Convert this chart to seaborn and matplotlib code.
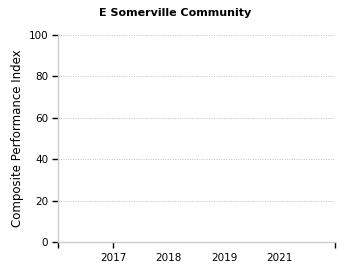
import numpy as np
import pandas as pd
import matplotlib
matplotlib.use("Agg")
import matplotlib.pyplot as plt
import seaborn as sns

title = "E Somerville Community"
ylabel = "Composite Performance Index"
years = ["2017", "2018", "2019", "2021"]
values = [np.nan, np.nan, np.nan, np.nan]
yticks = [0, 20, 40, 60, 80, 100]

sns.set_theme(style="ticks")
plt.rcParams['font.family'] = ['DejaVu Sans']

fig = plt.figure(figsize=(3.5, 2.75), dpi=100)
ax = fig.add_axes([58/350, 1 - 242/275, (335-58)/350, (242-35)/275])

df = pd.DataFrame({"pos": np.arange(1, len(years) + 1), "val": values})
sns.scatterplot(data=df, x="pos", y="val", ax=ax)

n = len(years)
ax.set_xlim(0, n + 1)
ax.set_ylim(0, 100)
# Category labels, no tick marks
ax.set_xticks(np.arange(1, n + 1))
ax.set_xticklabels(years, fontsize=7.5, color="black")
ax.tick_params(axis="x", which="major", length=0, pad=8)
# Tick marks at axis ends and first category
sec = ax.secondary_xaxis("bottom")
sec.set_xticks([0, 1, n + 1])
sec.set_xticklabels([])
sec.tick_params(axis="x", length=4, width=1, color="black", direction="out")
sec.spines["bottom"].set_visible(False)

ax.set_yticks(yticks)
ax.set_yticklabels([str(t) for t in yticks], fontsize=7.5, color="black")
ax.tick_params(axis="y", which="major", length=0, pad=7)
secy = ax.secondary_yaxis("left")
secy.set_yticks(yticks)
secy.set_yticklabels([])
secy.tick_params(axis="y", length=4, width=1, color="black", direction="out")
secy.spines["left"].set_visible(False)

ax.yaxis.grid(True, linestyle=(0, (1, 1.5)), color="#c0c0c0", linewidth=0.7)
ax.xaxis.grid(False)
for s in ["top", "right"]:
    ax.spines[s].set_visible(False)
for s in ["left", "bottom"]:
    ax.spines[s].set_color("#cccccc")
    ax.spines[s].set_linewidth(1)
ax.set_xlabel("")
ax.set_ylabel(ylabel, fontsize=8.5, color="black")
ax.yaxis.set_label_coords(-0.123, 0.5)
fig.text(175/350, 1 - 13/275, title, ha="center", va="center", fontsize=8, fontweight="bold", color="black")

fig.savefig("out.png", dpi=100)
